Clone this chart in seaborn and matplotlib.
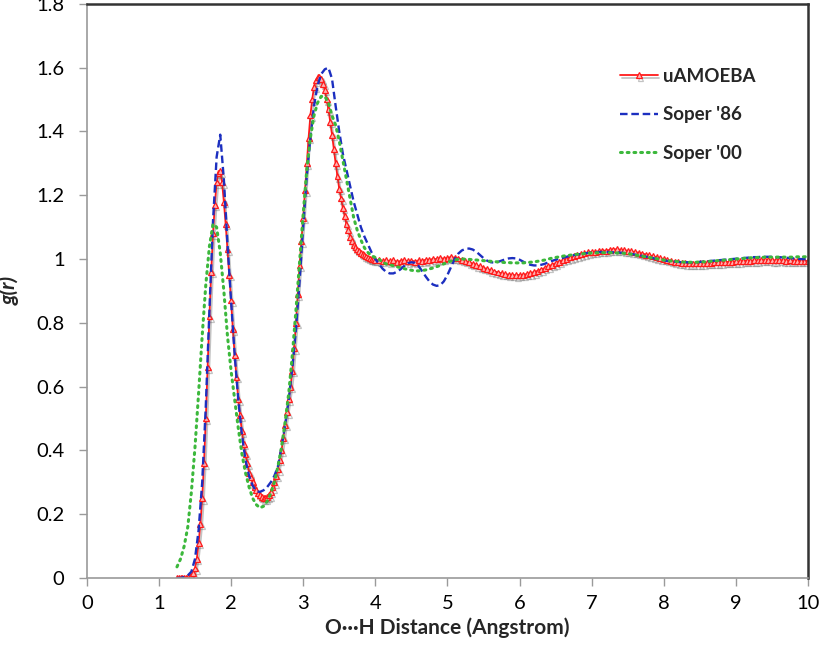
import numpy as np
import pandas as pd
import matplotlib
matplotlib.use("Agg")
import matplotlib.pyplot as plt
import matplotlib.patheffects as pe
import seaborn as sns

# O...H radial distribution function, g(r)
# reference curves sampled every 0.05 A (1.25 .. 10.00)
r_grid = np.round(np.arange(1.25, 10.0001, 0.05), 2)
# uAMOEBA is sampled finer over the two peaks (0.025 A up to 3.975, then 0.05 A)
r_amoeba = np.round(np.concatenate([np.arange(1.25, 3.99, 0.025),
                                    np.arange(4.0, 10.0001, 0.05)]), 3)

g_uamoeba = [
    # 1.250 .. 3.975 (step 0.025)
    0.0, 0.0, 0.0, 0.0, 0.0, 0.001, 0.002, 0.004, 0.008, 0.015,
    0.03, 0.06, 0.11, 0.17, 0.25, 0.36, 0.50, 0.66, 0.82, 0.96,
    1.08, 1.17, 1.24, 1.27, 1.275, 1.24, 1.18, 1.11, 1.03, 0.95,
    0.87, 0.78, 0.70, 0.63, 0.56, 0.51, 0.46, 0.42, 0.39, 0.36,
    0.33, 0.315, 0.30, 0.285, 0.275, 0.265, 0.26, 0.255, 0.25, 0.25,
    0.255, 0.26, 0.27, 0.285, 0.30, 0.32, 0.34, 0.37, 0.40, 0.44,
    0.48, 0.52, 0.56, 0.60, 0.65, 0.72, 0.80, 0.89, 0.98, 1.055,
    1.13, 1.215, 1.30, 1.38, 1.45, 1.50, 1.54, 1.56, 1.57, 1.572,
    1.565, 1.55, 1.53, 1.50, 1.47, 1.43, 1.39, 1.345, 1.30, 1.26,
    1.22, 1.19, 1.16, 1.135, 1.11, 1.09, 1.07, 1.057, 1.045, 1.037,
    1.03, 1.025, 1.02, 1.016, 1.012, 1.008, 1.005, 1.002, 1.0, 0.999,
    # 4.00 .. 10.00 (step 0.05)
    0.998, 0.996, 0.994, 0.997, 0.993,
    0.996, 0.991, 0.994, 0.997, 0.993, 0.995, 0.992, 0.996, 0.994, 0.998,
    0.996, 1.001, 0.999, 1.003, 1.001, 1.004, 1.006, 1.004, 1.002, 0.998,
    0.994, 0.990, 0.985, 0.981, 0.977, 0.972, 0.969, 0.965, 0.961, 0.958,
    0.955, 0.953, 0.951, 0.950, 0.949, 0.950, 0.951, 0.953, 0.956, 0.959,
    0.963, 0.967, 0.972, 0.977, 0.982, 0.987, 0.992, 0.997, 1.001, 1.005,
    1.009, 1.012, 1.015, 1.018, 1.021, 1.023, 1.022, 1.025, 1.027, 1.026,
    1.029, 1.030, 1.031, 1.029, 1.028, 1.026, 1.024, 1.022, 1.020, 1.017,
    1.014, 1.012, 1.009, 1.006, 1.003, 1.000, 0.997, 0.994, 0.992, 0.990,
    0.988, 0.987, 0.986, 0.986, 0.986, 0.987, 0.987, 0.988, 0.988, 0.989,
    0.990, 0.990, 0.991, 0.991, 0.992, 0.993, 0.993, 0.994, 0.995, 0.995,
    0.996, 0.996, 0.997, 0.997, 0.997, 0.996, 0.996, 0.997, 0.996, 0.995,
    0.996, 0.995, 0.994, 0.995, 0.994, 0.994,
]

g_soper86 = [
    0.0, 0.0, 0.003, 0.008, 0.02, 0.06, 0.15, 0.30, 0.54, 0.84,
    1.12, 1.32, 1.39, 1.25, 1.05, 0.87, 0.70, 0.56, 0.45, 0.37,
    0.32, 0.29, 0.272, 0.27, 0.275, 0.285, 0.30, 0.32, 0.35, 0.41,
    0.48, 0.56, 0.66, 0.78, 0.93, 1.10, 1.26, 1.38, 1.48, 1.545,
    1.58, 1.595, 1.60, 1.565, 1.48, 1.40, 1.33, 1.28, 1.23, 1.18,
    1.14, 1.10, 1.07, 1.045, 1.02, 1.0, 0.985, 0.97, 0.96, 0.955,
    0.955, 0.96, 0.968, 0.978, 0.987, 0.99, 0.988, 0.978, 0.962, 0.945,
    0.93, 0.92, 0.916, 0.918, 0.93, 0.95, 0.975, 1.0, 1.017, 1.027,
    1.032, 1.033, 1.03, 1.023, 1.013, 1.003, 0.995, 0.99, 0.989, 0.991,
    0.995, 0.999, 1.002, 1.003, 1.002, 0.998, 0.992, 0.986, 0.982, 0.98,
    0.98, 0.982, 0.985, 0.99, 0.994, 0.998, 1.001, 1.004, 1.007, 1.01,
    1.012, 1.014, 1.016, 1.018, 1.019, 1.02, 1.021, 1.022, 1.022, 1.022,
    1.022, 1.021, 1.021, 1.02, 1.019, 1.018, 1.016, 1.014, 1.012, 1.01,
    1.008, 1.005, 1.003, 1.0, 0.998, 0.996, 0.994, 0.993, 0.992, 0.991,
    0.99, 0.99, 0.99, 0.99, 0.99, 0.991, 0.992, 0.993, 0.994, 0.995,
    0.996, 0.997, 0.998, 0.999, 1.0, 1.001, 1.002, 1.003, 1.004, 1.005,
    1.006, 1.006, 1.007, 1.007, 1.007, 1.007, 1.006, 1.006, 1.005, 1.004,
    1.003, 1.002, 1.001, 1.0, 1.0, 0.999,
]

g_soper00 = [
    0.035, 0.06, 0.10, 0.16, 0.27, 0.41, 0.58, 0.76, 0.92, 1.04,
    1.11, 1.10, 1.02, 0.90, 0.76, 0.65, 0.56, 0.47, 0.39, 0.33,
    0.285, 0.25, 0.23, 0.22, 0.225, 0.24, 0.265, 0.30, 0.35, 0.41,
    0.49, 0.58, 0.70, 0.84, 0.99, 1.14, 1.28, 1.38, 1.45, 1.49,
    1.51, 1.51, 1.49, 1.45, 1.42, 1.37, 1.31, 1.25, 1.19, 1.13,
    1.09, 1.06, 1.035, 1.02, 1.01, 1.005, 1.0, 0.99, 0.985, 0.982,
    0.979, 0.976, 0.973, 0.97, 0.967, 0.965, 0.963, 0.963, 0.964, 0.966,
    0.969, 0.972, 0.976, 0.98, 0.985, 0.99, 0.994, 0.997, 0.999, 1.0,
    1.0, 0.999, 0.998, 0.997, 0.996, 0.995, 0.994, 0.993, 0.992, 0.991,
    0.99, 0.989, 0.989, 0.988, 0.988, 0.988, 0.988, 0.989, 0.99, 0.991,
    0.993, 0.995, 0.997, 1.0, 1.003, 1.005, 1.007, 1.009, 1.011, 1.012,
    1.014, 1.015, 1.016, 1.017, 1.018, 1.019, 1.019, 1.02, 1.02, 1.02,
    1.02, 1.02, 1.019, 1.019, 1.018, 1.017, 1.015, 1.013, 1.011, 1.009,
    1.007, 1.005, 1.003, 1.001, 0.999, 0.997, 0.995, 0.994, 0.993, 0.992,
    0.991, 0.99, 0.99, 0.99, 0.99, 0.991, 0.991, 0.992, 0.993, 0.994,
    0.995, 0.996, 0.997, 0.998, 0.999, 1.0, 1.001, 1.002, 1.003, 1.004,
    1.004, 1.005, 1.005, 1.006, 1.006, 1.006, 1.006, 1.006, 1.006, 1.006,
    1.006, 1.006, 1.007, 1.007, 1.007, 1.008,
]

x_ticks = list(range(0, 11))
y_ticks = [0, 0.2, 0.4, 0.6, 0.8, 1, 1.2, 1.4, 1.6, 1.8]

df_amoeba = pd.DataFrame({"r": r_amoeba, "g": g_uamoeba})
df_soper = pd.DataFrame({"r": r_grid, "Soper '86": g_soper86, "Soper '00": g_soper00})

sns.set_style("ticks")
plt.rcParams["font.family"] = ["Lato", "DejaVu Sans"]

fig = plt.figure(figsize=(8.19, 6.48), dpi=100)
ax = fig.add_axes([0.106, 0.108, 0.8806, 0.886])

sns.lineplot(
    data=df_amoeba, x="r", y="g", ax=ax, estimator=None, sort=False,
    color="#ff1a1a", linewidth=1.3, marker="^", markersize=4.2,
    markerfacecolor="#ffb3b3", markeredgecolor="#ff1a1a", markeredgewidth=0.9,
    label="uAMOEBA",
    path_effects=[pe.SimpleLineShadow(offset=(1.2, -1.8), shadow_color="#555555", alpha=0.35),
                  pe.Normal()],
)
sns.lineplot(
    data=df_soper, x="r", y="Soper '86", ax=ax, estimator=None, sort=False,
    color="#1c2fc0", linewidth=1.7, linestyle=(0, (3.2, 1.6)),
    label="Soper '86",
)
sns.lineplot(
    data=df_soper, x="r", y="Soper '00", ax=ax, estimator=None, sort=False,
    color="#3cb83c", linewidth=2.2, linestyle=(0, (0.6, 1.6)),
    dash_capstyle="round", label="Soper '00",
)

ax.set_xlim(0, 10)
ax.set_ylim(0, 1.8)
ax.set_xticks(x_ticks)
ax.set_yticks(y_ticks)
ax.set_yticklabels([f"{v:g}" for v in y_ticks])

ax.tick_params(axis="both", direction="out", length=6, width=1, color="#9a9a9a",
               labelsize=14.5, labelcolor="black")
ax.tick_params(axis="y", pad=10)
ax.tick_params(axis="x", pad=6)

for side in ["left", "bottom"]:
    ax.spines[side].set_color("#9a9a9a")
    ax.spines[side].set_linewidth(1.2)
for side in ["top", "right"]:
    ax.spines[side].set_visible(True)
    ax.spines[side].set_color("#333333")
    ax.spines[side].set_linewidth(1.8)

ax.set_xlabel("O\u00b7\u00b7\u00b7H Distance (Angstrom)", fontsize=15, fontweight="bold", labelpad=4)
ax.set_ylabel("g(r)", fontsize=15, fontweight="bold", fontstyle="italic")
ax.yaxis.set_label_coords(-0.093, 0.5)

ax.legend(loc="upper left", bbox_to_anchor=(0.716, 0.918), frameon=False,
          prop={"weight": "bold", "size": 13.5}, handlelength=2.0,
          labelspacing=1.15, handletextpad=0.3)

fig.savefig("out.png", dpi=100)
plt.close(fig)
